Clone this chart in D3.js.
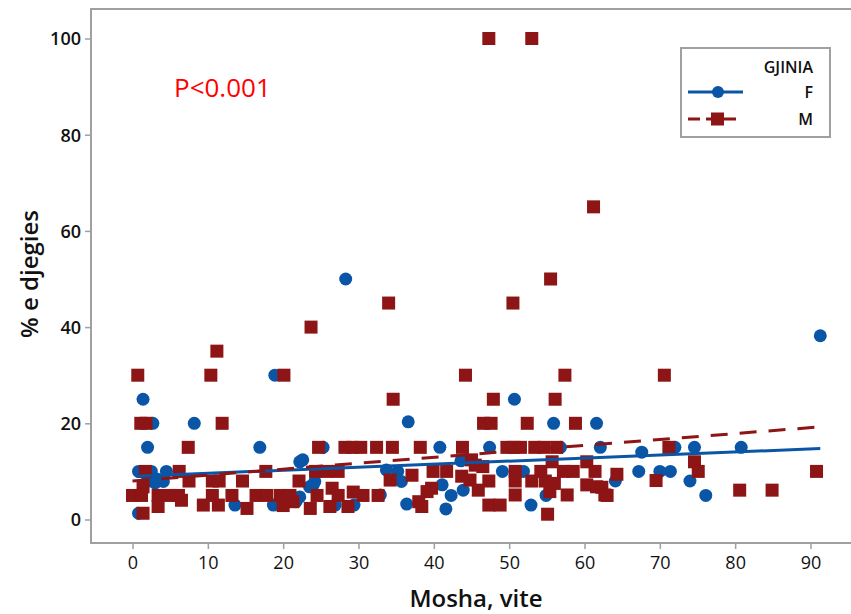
<!DOCTYPE html>
<html>
<head>
<meta charset="utf-8">
<script src="https://cdn.jsdelivr.net/npm/d3@7"></script>
<style>
  body { margin: 0; background: #fff; }
  svg { display: block; }
  text { font-family: "Open Sans", "Noto Sans", sans-serif; }
</style>
</head>
<body>
<svg id="chart" width="851" height="614"></svg>
<script>
// age (vite) , % e djegies
var pointsF = [
  [1.4,25],[2.7,20],[8.2,20],[2.0,15],[16.9,15],[0.8,10],[2.1,10],[2.5,10],[4.5,10],
  [3.2,8.4],[4.1,7.9],[1.9,7.9],[3.0,7.6],[0.8,1.3],[13.6,3],[18.7,3],[21.7,3.7],
  [22.2,12],[18.9,30],[28.3,50],[22.6,12.4],[24,7.2],[23.5,6.8],[24.2,7.9],[22.2,4.7],
  [25.3,15],[26.9,3],[29.4,3],[32.9,5.1],[33.7,10.3],[35.2,10],[35.7,7.9],[36.6,20.3],
  [36.4,3.2],[40.8,15],[41.1,7.2],[41.6,2.2],[42.3,5],[43.9,6.1],[43.6,12.2],
  [47.4,15],[49.1,10],[50.7,25],[51.9,10],[52.9,3],[54.9,5],[55.9,20],[56.8,15],
  [61.6,20],[62.1,15],[64.1,8],[67.2,10],[67.6,14],[70,10],[71.4,10],[72,15],
  [74.6,15],[74,8],[76.1,5],[80.8,15],[91.3,38.2]
];

var pointsM = [
  [47.3,100],[53,100],[61.2,65],[55.5,50],[50.5,45],[34,45],[23.7,40],[11.2,35],
  [0.7,30],[10.4,30],[20.1,30],[44.2,30],[57.4,30],[70.6,30],[34.6,25],[47.9,25],[56.1,25],
  [1.1,20],[1.8,20],[11.9,20],[46.6,20],[47.6,20],[52.4,20],[58.8,20],
  [7.4,15],[24.7,15],[28.2,15],[29.2,15],[30.3,15],[32.4,15],[34.5,15],[38.2,15],[43.8,15],
  [49.7,15],[50.6,15],[51.5,15],[53.4,15],[54.6,15],[56.3,15],[71.2,15],
  [45,12.4],[55.7,12],[60.3,12],[74.6,12],
  [1.7,10],[6.2,10],[17.7,10],[24.3,10],[25.8,10],[27.3,10],[37.1,9.2],[39.9,10],[41.7,10],
  [43.7,9],[45.5,11.3],[46.5,11],[50.8,10],[54.2,10],[57.2,10],[58.5,10],[61.4,10],
  [64.3,9.4],[75.1,10],[90.8,10],
  [7.5,8],[10.6,8],[11.5,8],[14.6,8],[22.1,8],[34.2,8.2],[44.8,8.2],[47.3,8],[50.8,8],
  [53,8],[54.8,8],[56,7.5],[60.3,7.2],[61.6,6.8],[62.3,6.7],[69.5,8.1],[1.4,6.8],
  [6.5,4],[26.5,6.5],[39.7,6.5],
  [0,5],[1.2,5],[3.4,5],[5,5],[6.1,5],[10.6,5],[13.2,5],[16.4,5],[17.8,5],[19.6,5],
  [20.9,5],[24.5,5],[27.3,5],[29.3,5.7],[30.6,5],[32.6,5],[39.1,5.8],[45.9,6.1],
  [50.8,5.1],[55.4,5.8],[57.7,5.1],[62.7,5.1],[63,5],[80.6,6.1],[84.9,6.1],
  [3.4,2.7],[9.4,3],[11.4,3],[15.2,2.3],[20,2.9],[21.3,3.7],[23.6,2.3],[26.2,2.7],
  [28.6,2.7],[38,3.7],[38.4,2.7],[47.3,3],[48.8,3],[1.4,1.3],[55.1,1.1]
];

// fitted lines (start, end)
var fitF = [[0.5, 9.0], [91.3, 14.75]];
var fitM = [[0, 8.0], [90.8, 19.2]];

var xTicks = [0,10,20,30,40,50,60,70,80,90];
var yTicks = [0,20,40,60,80,100];
var groups = ["F", "M"];

var blue = "#0a55a6", red = "#8e1515", axisCol = "#a0a0a0";

var svg = d3.select("#chart");

var x = d3.scaleLinear().domain([0, 90]).range([132.5, 810.5]);
var y = d3.scaleLinear().domain([0, 100]).range([519.5, 38.5]);

var frameL = 91, frameT = 9, frameB = 543, frameR = 853;

// frame
svg.append("rect")
    .attr("x", frameL).attr("y", frameT)
    .attr("width", frameR - frameL).attr("height", frameB - frameT)
    .style("fill", "none")
    .style("stroke", axisCol)
    .style("stroke-width", 2)

// x axis
var xAxis = svg.append("g")
    .attr("transform", "translate(0," + frameB + ")")
    .call(d3.axisBottom(x).tickValues(xTicks).tickSize(6).tickPadding(7))
xAxis.select(".domain").remove()
xAxis.selectAll("line").style("stroke", axisCol).style("stroke-width", 1.5)
xAxis.selectAll("text")
    .style("font-size", "18px")
    .style("font-weight", 500)
    .style("font-family", "'Open Sans', sans-serif")
    .style("fill", "#111")

// y axis
var yAxis = svg.append("g")
    .attr("transform", "translate(" + frameL + ",0)")
    .call(d3.axisLeft(y).tickValues(yTicks).tickSize(6).tickPadding(4))
yAxis.select(".domain").remove()
yAxis.selectAll("line").style("stroke", axisCol).style("stroke-width", 1.5)
yAxis.selectAll("text")
    .style("font-size", "18px")
    .style("font-weight", 600)
    .style("font-family", "'Open Sans', sans-serif")
    .style("fill", "#111")
    .attr("dy", "0.36em")

// axis titles
svg.append("text")
    .attr("x", 476)
    .attr("y", 607)
    .style("text-anchor", "middle")
    .style("font-size", "24px")
    .style("font-weight", 600)
    .style("fill", "#111")
    .text("Mosha, vite")

svg.append("text")
    .attr("transform", "translate(38,274) rotate(-90)")
    .style("text-anchor", "middle")
    .style("font-size", "24px")
    .style("font-weight", 600)
    .style("fill", "#111")
    .text("% e djegies")

// p value
svg.append("text")
    .attr("x", 174)
    .attr("y", 97)
    .style("font-size", "26px")
    .style("fill", "#ff0000")
    .text("P<0.001")

// points: F first, M on top
svg.append("g").selectAll("circle")
    .data(pointsF)
    .enter().append("circle")
    .attr("cx", function (d) { return x(d[0]); })
    .attr("cy", function (d) { return y(d[1]); })
    .attr("r", 6.5)
    .style("fill", blue)

var sq = 13;
svg.append("g").selectAll("rect")
    .data(pointsM)
    .enter().append("rect")
    .attr("x", function (d) { return x(d[0]) - sq / 2; })
    .attr("y", function (d) { return y(d[1]) - sq / 2; })
    .attr("width", sq)
    .attr("height", sq)
    .style("fill", red)

// fit lines
var line = d3.line()
    .x(function (d) { return x(d[0]); })
    .y(function (d) { return y(d[1]); })

svg.append("path")
    .datum(fitF)
    .attr("d", line)
    .style("fill", "none")
    .style("stroke", blue)
    .style("stroke-width", 3)

svg.append("path")
    .datum(fitM)
    .attr("d", line)
    .style("fill", "none")
    .style("stroke", red)
    .style("stroke-width", 3)
    .style("stroke-dasharray", "17,12")

// legend
var lg = svg.append("g")

lg.append("rect")
    .attr("x", 681).attr("y", 48)
    .attr("width", 149).attr("height", 89)
    .style("fill", "#fff")
    .style("stroke", axisCol)
    .style("stroke-width", 2)

lg.append("text")
    .attr("x", 813).attr("y", 73)
    .style("text-anchor", "end")
    .style("font-size", "16px")
    .style("font-weight", 600)
    .style("fill", "#111")
    .text("GJINIA")

groups.forEach(function (g, i) {
    var ly = 92 + i * 27;
    var col = i === 0 ? blue : red;
    lg.append("line")
        .attr("x1", 688).attr("x2", i === 0 ? 743 : 738)
        .attr("y1", ly).attr("y2", ly)
        .style("stroke", col)
        .style("stroke-width", 3)
        .style("stroke-dasharray", i === 0 ? null : "12,6")
    if (i === 0) {
        lg.append("circle").attr("cx", 718).attr("cy", ly).attr("r", 6).style("fill", col)
    } else {
        lg.append("rect").attr("x", 711).attr("y", ly - 6.5).attr("width", 13).attr("height", 13).style("fill", col)
    }
    lg.append("text")
        .attr("x", 813).attr("y", ly + 6)
        .style("text-anchor", "end")
        .style("font-size", "16px")
        .style("font-weight", 600)
        .style("fill", "#111")
        .text(g)
})
</script>
</body>
</html>
